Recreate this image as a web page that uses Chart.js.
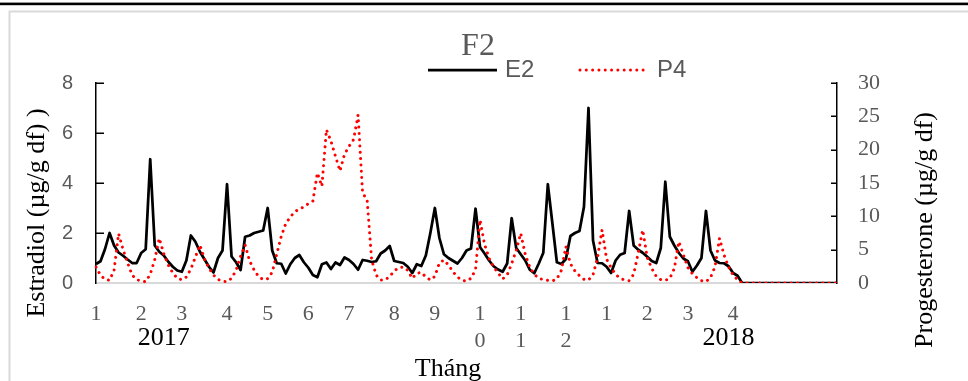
<!DOCTYPE html>
<html>
<head>
<meta charset="utf-8">
<script src="https://cdn.jsdelivr.net/npm/chart.js@4.4.1/dist/chart.umd.min.js"></script>
<style>
html,body{margin:0;padding:0;background:#fff;}
#wrap{width:968px;height:381px;position:relative;}
</style>
</head>
<body>
<div id="wrap"><canvas id="c" width="968" height="381"></canvas></div>
<script>
// ---- data ----
const chartTitle = 'F2';
const seriesNames = ['E2', 'P4'];
const e2 = [0.76,0.87,1.36,2.0,1.5,1.22,1.09,0.94,0.8,0.8,
            1.2,1.35,4.95,1.5,1.25,1.1,0.85,0.65,0.5,0.45,
            0.9,1.9,1.65,1.25,0.95,0.65,0.42,1.0,1.3,3.95,
            1.06,0.83,0.52,1.85,1.9,2.0,2.05,2.1,3.0,1.3,
            0.79,0.77,0.38,0.75,1.0,1.12,0.83,0.61,0.32,0.23,
            0.75,0.82,0.56,0.82,0.72,1.02,0.92,0.76,0.53,0.92,
            0.89,0.84,0.87,1.18,1.3,1.48,0.88,0.84,0.8,0.65,
            0.4,0.75,0.68,1.1,2.0,3.0,1.8,1.15,1.0,0.89,
            0.78,1.0,1.3,1.38,2.97,1.43,1.18,0.9,0.67,0.54,
            0.45,0.78,2.59,1.4,1.15,0.9,0.53,0.39,0.78,1.21,
            3.95,2.4,0.83,0.76,0.96,1.88,2.0,2.08,3.05,7.0,
            1.7,0.8,0.79,0.65,0.4,0.9,1.13,1.2,2.88,1.5,
            1.33,1.21,1.05,0.88,0.8,1.4,4.05,1.85,1.5,1.2,
            0.98,0.87,0.45,0.7,1.0,2.88,1.3,0.9,0.8,0.79,
            0.67,0.4,0.29,0,0,0,0,0,0,0,
            0,0,0,0,0,0,0,0,0,0,
            0,0,0,0,0];
const p4 = [2.4,1.15,0.55,0.4,1.9,7.4,5.0,3.0,1.2,0.5,
            0.3,0.2,1.3,3.5,6.7,4.4,2.7,1.5,0.7,0.48,
            0.9,2.1,3.9,5.7,3.6,2.25,1.2,0.55,0.25,0.2,
            0.7,1.9,4.0,5.7,3.3,1.95,0.95,0.5,0.65,1.6,
            4.3,7.0,8.9,9.9,10.7,11.1,11.4,11.9,12.3,16.5,
            14.5,23.0,21.3,19.0,16.8,19.3,20.5,21.5,25.2,13.5,
            12.5,3.5,1.2,0.45,0.45,1.0,1.8,2.3,2.4,1.9,
            0.7,1.45,1.6,0.9,0.45,1.0,3.0,3.45,2.7,1.7,
            0.9,0.4,0.3,0.7,2.0,9.45,5.8,3.7,2.4,1.5,
            0.6,1.2,2.9,4.9,7.45,4.3,2.4,1.3,0.7,0.5,
            0.4,0.3,0.6,1.9,5.45,2.9,1.8,1.1,0.55,0.45,
            1.2,3.8,7.95,3.6,2.3,1.3,0.7,0.45,0.35,1.3,
            4.5,7.95,3.8,2.2,1.0,0.5,0.4,0.7,2.2,6.2,
            4.2,2.3,1.4,0.8,0.35,0.2,0.8,2.45,6.7,4.2,
            2.4,1.2,0.5,0,0,0,0,0,0,0,
            0,0,0,0,0,0,0,0,0,0,
            0,0,0,0,0];
const monthTickIndex = [0,10,19,29,38,47,56,66,75,85,94,104,113,122,131,141];
const monthTickText = ['1','2','3','4','5','6','7','8','9',['1','0'],['1','1'],['1','2'],'1','2','3','4'];
const yearLabels = ['2017', '2018'];
const yearAnchorIndex = [15, 140];
const xTitle = 'Tháng';
const yLeftTitle = 'Estradiol (µg/g df) )';
const yRightTitle = 'Progesterone (µg/g df)';
const sampleLabels = e2.map((_, i) => String(i + 1));

const SERIF = '"Liberation Serif", "Times New Roman", serif';
const SANS = '"Liberation Sans", Arial, sans-serif';

const deco = {
  id: 'deco',
  beforeDraw(chart) {
    const ctx = chart.ctx;
    ctx.save();
    ctx.fillStyle = '#fff';
    ctx.fillRect(0, 0, chart.width, chart.height);
    ctx.fillStyle = '#000';
    ctx.fillRect(0, 2.6, chart.width, 2.6);
    ctx.strokeStyle = '#d9d9d9';
    ctx.lineWidth = 2;
    ctx.strokeRect(9.5, 11.5, chart.width + 20, chart.height + 20);
    ctx.restore();
  },
  afterDraw(chart) {
    const {ctx, chartArea: ca, scales} = chart;
    ctx.save();
    // title
    ctx.fillStyle = '#595959';
    ctx.font = '32px ' + SERIF;
    ctx.textAlign = 'center';
    ctx.textBaseline = 'alphabetic';
    ctx.fillText(chartTitle, 478, 55);
    // legend
    const legendPos = [{x0: 428, x1: 497, tx: 505}, {x0: 580, x1: 648, tx: 657}];
    chart.data.datasets.forEach((ds, i) => {
      const p = legendPos[i];
      ctx.save();
      ctx.strokeStyle = ds.borderColor;
      ctx.lineWidth = ds.borderWidth;
      ctx.lineCap = ds.borderCapStyle || 'butt';
      ctx.setLineDash(ds.borderDash || []);
      ctx.beginPath();
      ctx.moveTo(p.x0, 70);
      ctx.lineTo(p.x1, 70);
      ctx.stroke();
      ctx.restore();
      ctx.fillStyle = '#595959';
      ctx.font = '24px ' + SANS;
      ctx.textAlign = 'left';
      ctx.fillText(ds.label, p.tx, 76.5);
    });
    // inner tick marks
    ctx.strokeStyle = '#000';
    ctx.lineWidth = 1.5;
    scales.y.ticks.forEach(t => {
      if (t.value === 0) return;
      const y = Math.round(scales.y.getPixelForValue(t.value)) + 0.25;
      ctx.beginPath(); ctx.moveTo(ca.left, y); ctx.lineTo(ca.left + 8, y); ctx.stroke();
    });
    scales.y1.ticks.forEach(t => {
      if (t.value === 0) return;
      const y = Math.round(scales.y1.getPixelForValue(t.value)) + 0.25;
      ctx.beginPath(); ctx.moveTo(ca.right - 6, y); ctx.lineTo(ca.right, y); ctx.stroke();
    });
    // axis titles
    ctx.fillStyle = '#000';
    ctx.font = '26px ' + SERIF;
    ctx.textAlign = 'center';
    ctx.textBaseline = 'alphabetic';
    ctx.save();
    ctx.translate(43.5, 213);
    ctx.rotate(-Math.PI / 2);
    ctx.fillText(yLeftTitle, 0, 0);
    ctx.restore();
    ctx.save();
    ctx.translate(932, 230);
    ctx.rotate(-Math.PI / 2);
    ctx.fillText(yRightTitle, 0, 0);
    ctx.restore();
    // year labels and x title
    yearLabels.forEach((t, i) => {
      ctx.fillText(t, scales.x.getPixelForValue(yearAnchorIndex[i]), 345);
    });
    ctx.fillText(xTitle, 448, 375.5);
    ctx.restore();
  }
};

new Chart(document.getElementById('c'), {
  type: 'line',
  data: {
    labels: sampleLabels,
    datasets: [
      {label: seriesNames[0], data: e2, yAxisID: 'y', borderColor: '#000000', borderWidth: 2.75,
       pointRadius: 0, tension: 0, borderJoinStyle: 'round', order: 2},
      {label: seriesNames[1], data: p4, yAxisID: 'y1', borderColor: '#ff0000', borderWidth: 3,
       borderDash: [0.01, 6.3], borderCapStyle: 'round', pointRadius: 0, tension: 0, order: 1}
    ]
  },
  options: {
    responsive: false,
    animation: false,
    events: [],
    layout: {padding: {top: 83, left: 0, right: 0, bottom: 0}},
    plugins: {legend: {display: false}, title: {display: false}, tooltip: {enabled: false}},
    scales: {
      x: {
        type: 'category',
        offset: false,
        grid: {display: false, drawTicks: false},
        border: {display: true, color: '#d9d9d9', width: 2},
        afterBuildTicks(s) { s.ticks = monthTickIndex.map(v => ({value: v})); },
        ticks: {
          autoSkip: false, maxRotation: 0, minRotation: 0, padding: 17, color: '#595959',
          font: {family: SERIF, size: 22, lineHeight: 1.25},
          callback: (v) => monthTickText[monthTickIndex.indexOf(v)]
        },
        afterFit(s) { s.height = 98; }
      },
      y: {
        position: 'left', min: 0, max: 8,
        grid: {display: false, drawTicks: false},
        border: {display: true, color: '#000', width: 1.5},
        ticks: {stepSize: 2, padding: 23, color: '#595959', font: {family: SANS, size: 20}},
        afterFit(s) { s.width = 96; }
      },
      y1: {
        position: 'right', min: 0, max: 30,
        grid: {display: false, drawTicks: false},
        border: {display: true, color: '#000', width: 1.5},
        ticks: {stepSize: 5, padding: 21, color: '#595959', font: {family: SERIF, size: 22}},
        afterFit(s) { s.width = 131; }
      }
    }
  },
  plugins: [deco]
});
</script>
</body>
</html>
